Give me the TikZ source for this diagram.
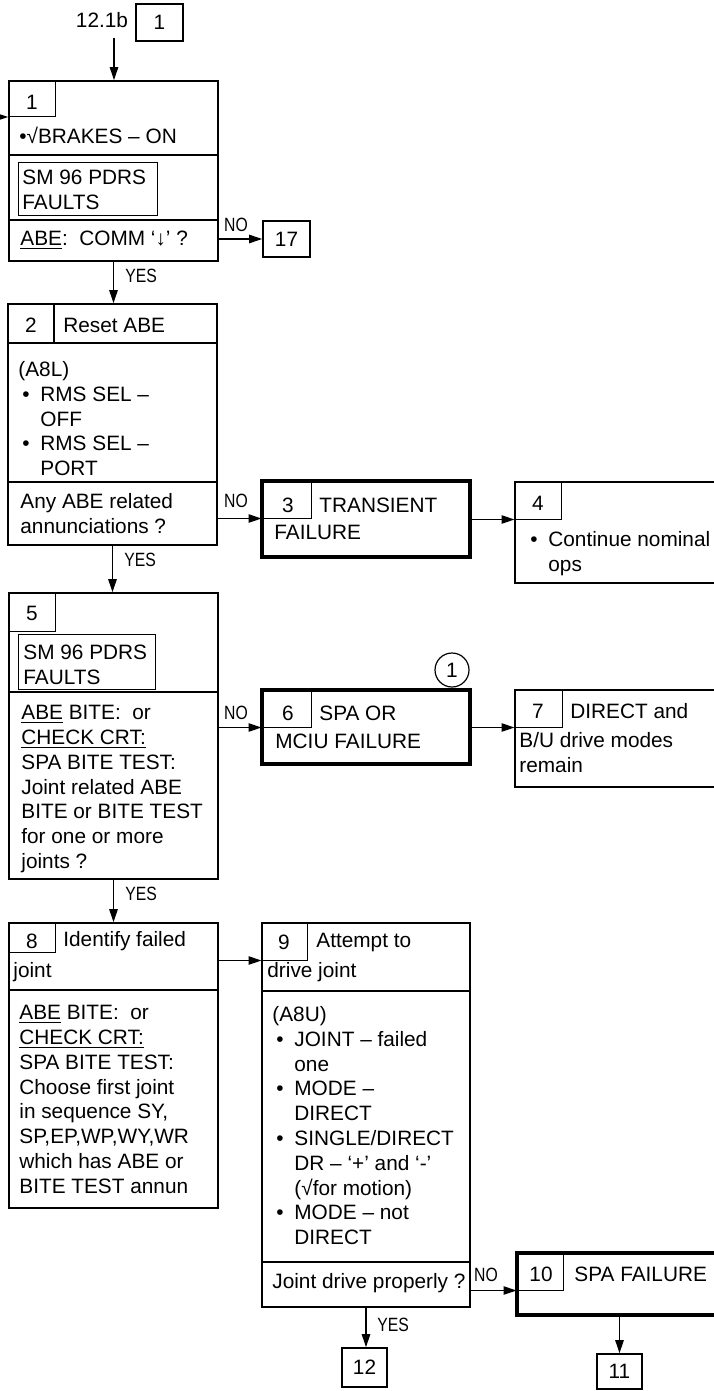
\documentclass[tikz,border=0pt]{standalone}
\usepackage{fontspec}
\setmainfont{Liberation Sans}
\newfontfamily\narrowsans[FakeStretch=0.82]{Liberation Sans}
\usetikzlibrary{arrows.meta,fit}
\tikzset{
  box/.style={draw, line width=0.8pt, inner sep=0pt},
  fbox/.style={draw, line width=2pt, inner sep=0pt},
  tab/.style={draw, line width=0.5pt, inner sep=0pt},
  sep/.style={line width=0.6pt},
  arr/.style={-{Triangle[length=6.5pt,width=4.2pt]}, line width=0.6pt},
  txt/.style={inner sep=0pt, anchor=north west, align=left, font=\fontsize{10.4}{12.4}\selectfont},
  num/.style={inner sep=0pt, font=\fontsize{10.4}{12.4}\selectfont},
  yn/.style={inner sep=0pt, font=\narrowsans\fontsize{9.6}{11}\selectfont},
  ring/.style={circle, draw, line width=0.6pt, minimum size=17pt, inner sep=0pt},
}
\newcommand{\blt}{\makebox[11pt][l]{\hspace{2pt}•}}
\newcommand{\bcnt}{\hspace*{11pt}}
\begin{document}
\begin{tikzpicture}[x=0.5pt,y=-0.5pt]
  \useasboundingbox (0,0) rectangle (713,1391);
  % entry
  \node[num] (ref) at (102,20) {12.1b};
  \node[box, fit={(136,4) (183,41)}] (top1) {};
  \node[num] (top1n) at (top1.center) {1};
  \coordinate (in1) at (114,38);
  \coordinate (in2) at (-6,117);
  % box 1
  \node[box, fit={(9,81) (218,261)}] (b1) {};
  \node[tab, fit={(9,81) (55,117)}] (t1) {};
  \node[num] (n1) at (32,102) {1};
  \draw[sep] (9,155) -- (218,155);
  \draw[sep] (9,220) -- (218,220);
  \node[txt, anchor=west] (b1a) at (19,135) {•√BRAKES – ON};
  \node[tab, fit={(18,163) (157,216)}] (s1) {};
  \node[txt] (s1a) at (22,170) {SM 96 PDRS\\FAULTS};
  \node[txt, anchor=west] (b1c) at (20,240) {\underline{ABE}:\ \ COMM ‘↓’ ?};
  \node[box, fit={(263,221) (310,257)}] (b17) {};
  \node[num] (n17) at (b17.center) {17};
  \draw[arr] (in1) -- (in1 |- b1.north);
  \draw[arr] (in2) -- (in2 -| b1.west);
  \draw[arr] (b1.east |- b17) -- (b17.west);
  \node[yn] (no1) at (236,225) {NO};
  % box 2
  \node[box, fit={(8,304) (217,545)}] (b2) {};
  \draw[sep] (54,304) -- (54,343);
  \draw[sep] (8,343) -- (217,343);
  \draw[sep] (8,482) -- (217,482);
  \node[num] (n2) at (31,325) {2};
  \node[txt, anchor=west] (b2a) at (63,325) {Reset ABE};
  \node[txt] (b2b) at (18,361) {(A8L)\\\blt RMS SEL –\\\bcnt OFF\\\blt RMS SEL –\\\bcnt PORT};
  \node[txt] (b2c) at (20,493) {Any ABE related\\annunciations ?};
  \draw[arr] (b1.south) -- (b1.south |- b2.north);
  \node[yn] (yes1) at (141,276) {YES};
  % box 3 and 4
  \node[fbox, fit={(262,481) (470,557)}] (b3) {};
  \node[tab, fit={(262,481) (311,518)}] (t3) {};
  \node[num] (n3) at (288,505) {3};
  \node[txt, anchor=west] (b3a) at (319,505) {TRANSIENT};
  \node[txt, anchor=west] (b3b) at (274,532) {FAILURE};
  \node[box, fit={(515,482) (725,583)}] (b4) {};
  \node[tab, fit={(515,482) (561,519)}] (t4) {};
  \node[num] (n4) at (538,503) {4};
  \node[txt] (b4a) at (526,531) {\blt Continue nominal\\\bcnt ops};
  \draw[arr] (t3.south west -| b2.east) -- (t3.south west);
  \node[yn] (no2) at (236,501) {NO};
  \draw[arr] (t4.south west -| b3.east) -- (t4.south west);
  % box 5
  \node[box, fit={(9,593) (218,879)}] (b5) {};
  \node[tab, fit={(9,593) (55,631)}] (t5) {};
  \node[num] (n5) at (32,613) {5};
  \node[tab, fit={(18,634) (155,689)}] (s5) {};
  \node[txt] (s5a) at (23,645) {SM 96 PDRS\\FAULTS};
  \draw[sep] (9,692) -- (218,692);
  \node[txt] (b5a) at (21,705) {\underline{ABE} BITE:\ \ or\\\underline{CHECK CRT:}\\SPA BITE TEST:\\Joint related ABE\\BITE or BITE TEST\\for one or more\\joints ?};
  \draw[arr] (b2.south) -- (b2.south |- b5.north);
  \node[yn] (yes2) at (140,560) {YES};
  % box 6 and 7
  \node[fbox, fit={(262,690) (470,764)}] (b6) {};
  \node[tab, fit={(262,690) (311,727)}] (t6) {};
  \node[num] (n6) at (288,713) {6};
  \node[txt, anchor=west] (b6a) at (319,713) {SPA OR};
  \node[txt, anchor=west] (b6b) at (275,741) {MCIU FAILURE};
  \node[ring, num] (c6) at (452,670) {1};
  \node[box, fit={(515,690) (725,787)}] (b7) {};
  \node[tab, fit={(515,690) (562,727)}] (t7) {};
  \node[num] (n7) at (538,711) {7};
  \node[txt, anchor=west] (b7a) at (570,711) {DIRECT and};
  \node[txt] (b7b) at (519,732) {B/U drive modes\\remain};
  \draw[arr] (t6.south west -| b5.east) -- (t6.south west);
  \node[yn] (no5) at (236,713) {NO};
  \draw[arr] (t7.south west -| b6.east) -- (t7.south west);
  % box 8
  \node[box, fit={(9,923) (218,1208)}] (b8) {};
  \node[tab, fit={(9,923) (55,952)}] (t8) {};
  \node[num] (n8) at (32,941) {8};
  \node[txt, anchor=west] (b8a) at (63,941) {Identify failed};
  \node[txt, anchor=west] (b8b) at (13,972) {joint};
  \draw[sep] (9,990) -- (218,990);
  \node[txt] (b8c) at (19,1005) {\underline{ABE} BITE:\ \ or\\\underline{CHECK CRT:}\\SPA BITE TEST:\\Choose first joint\\in sequence SY,\\SP,EP,WP,WY,WR\\which has ABE or\\BITE TEST annun};
  \draw[arr] (b5.south) -- (b5.south |- b8.north);
  \node[yn] (yes5) at (141,894) {YES};
  % box 9
  \node[box, fit={(262,923) (470,1307)}] (b9) {};
  \node[tab, fit={(262,923) (307,960)}] (t9) {};
  \node[num] (n9) at (284,942) {9};
  \node[txt, anchor=west] (b9a) at (316,942) {Attempt to};
  \node[txt, anchor=west] (b9b) at (267,972) {drive joint};
  \draw[sep] (262,991) -- (470,991);
  \node[txt] (b9c) at (272,1006) {(A8U)\\\blt JOINT – failed\\\bcnt one\\\blt MODE –\\\bcnt DIRECT\\\blt SINGLE/DIRECT\\\bcnt DR – ‘+’ and ‘-’\\\bcnt (√for motion)\\\blt MODE – not\\\bcnt DIRECT};
  \draw[sep] (262,1262) -- (470,1262);
  \node[txt, anchor=west] (b9d) at (272,1283) {Joint drive properly ?};
  \draw[arr] (t9.south west -| b8.east) -- (t9.south west);
  % box 10 and exits
  \node[fbox, fit={(517,1253) (725,1315)}] (b10) {};
  \node[tab, fit={(517,1253) (563,1290)}] (t10) {};
  \node[num] (n10) at (541,1274) {10};
  \node[txt, anchor=west] (b10a) at (574,1274) {SPA FAILURE};
  \node[box, fit={(342,1348) (387,1387)}] (b12) {};
  \node[num] (n12) at (b12.center) {12};
  \node[box, fit={(597,1354) (642,1389)}] (b11) {};
  \node[num] (n11) at (b11.center) {11};
  \draw[arr] (t10.south west -| b9.east) -- (t10.south west);
  \node[yn] (no9) at (486,1275) {NO};
  \draw[arr] (b9.south) -- (b9.south |- b12.north);
  \node[yn] (yes9) at (393,1325) {YES};
  \draw[arr] (b11.north |- b10.south) -- (b11.north);
\end{tikzpicture}
\end{document}
